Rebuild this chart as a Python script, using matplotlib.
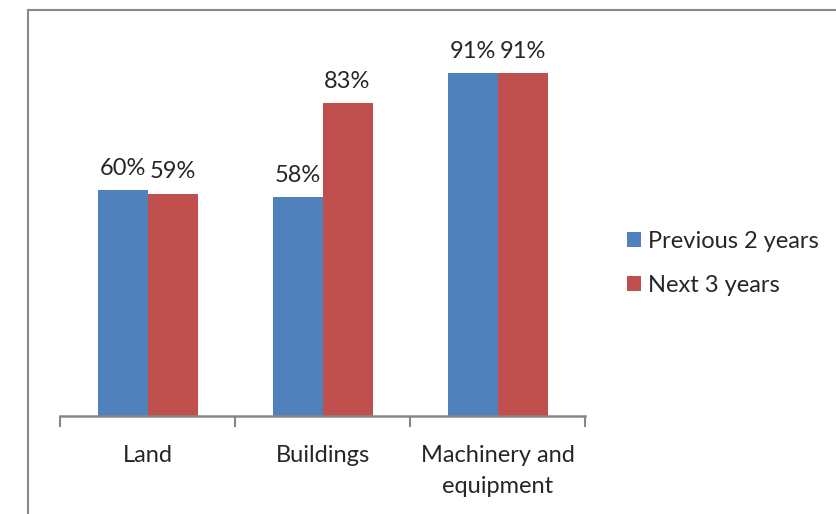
import matplotlib.pyplot as plt
import numpy as np
from matplotlib.lines import Line2D

plt.rcParams['font.family'] = ['Lato', 'DejaVu Sans']

# Data
categories = ['Land', 'Buildings', 'Machinery and\nequipment']
previous_2 = [60, 58, 91]
next_3 = [59, 83, 91]
series_names = ['Previous 2 years', 'Next 3 years']
colors = ['#4F81BD', '#C0504D']

W, H = 836, 514
fig = plt.figure(figsize=(W / 100, H / 100), dpi=100)

# frame of the embedded chart (cropped at right/bottom)
frame_col = '#8a8a8a'
fig.add_artist(Line2D([28 / W, 28 / W], [0, 1 - 10 / H], color=frame_col, lw=1.5))
fig.add_artist(Line2D([28 / W, 1], [1 - 10 / H, 1 - 10 / H], color=frame_col, lw=1.5))

ax = fig.add_axes([60 / W, 98 / H, 525 / W, 377 / H])

x = np.arange(len(categories))
w = 50 / 175
b1 = ax.bar(x - w / 2, previous_2, w, color=colors[0], label=series_names[0])
b2 = ax.bar(x + w / 2, next_3, w, color=colors[1], label=series_names[1])

for bars in (b1, b2):
    for r in bars:
        ax.annotate(f'{r.get_height():.0f}%', (r.get_x() + r.get_width() / 2, r.get_height()),
                    xytext=(0, 8), textcoords='offset points', ha='center', va='bottom',
                    fontsize=17, color='#262626')

ax.set_xlim(-0.5, len(categories) - 0.5)
ax.set_ylim(0, 100)
ax.set_yticks([])
for s in ('top', 'right', 'left'):
    ax.spines[s].set_visible(False)
ax.spines['bottom'].set_color('#868686')
ax.spines['bottom'].set_linewidth(1.8)

ax.set_xticks(x)
ax.set_xticklabels(categories, fontsize=17, color='#262626', linespacing=1.6)
ax.tick_params(axis='x', which='major', length=0, pad=21)
ax.set_xticks(np.arange(len(categories) + 1) - 0.5, minor=True)
ax.tick_params(axis='x', which='minor', length=8, width=1.5, color='#868686')

ax.legend(loc='center left', bbox_to_anchor=(1.04, 0.405), frameon=False, fontsize=17,
          handlelength=0.6, handleheight=0.6, handletextpad=0.3, labelspacing=1.0,
          labelcolor='#262626')

fig.savefig('out.png', dpi=100)
